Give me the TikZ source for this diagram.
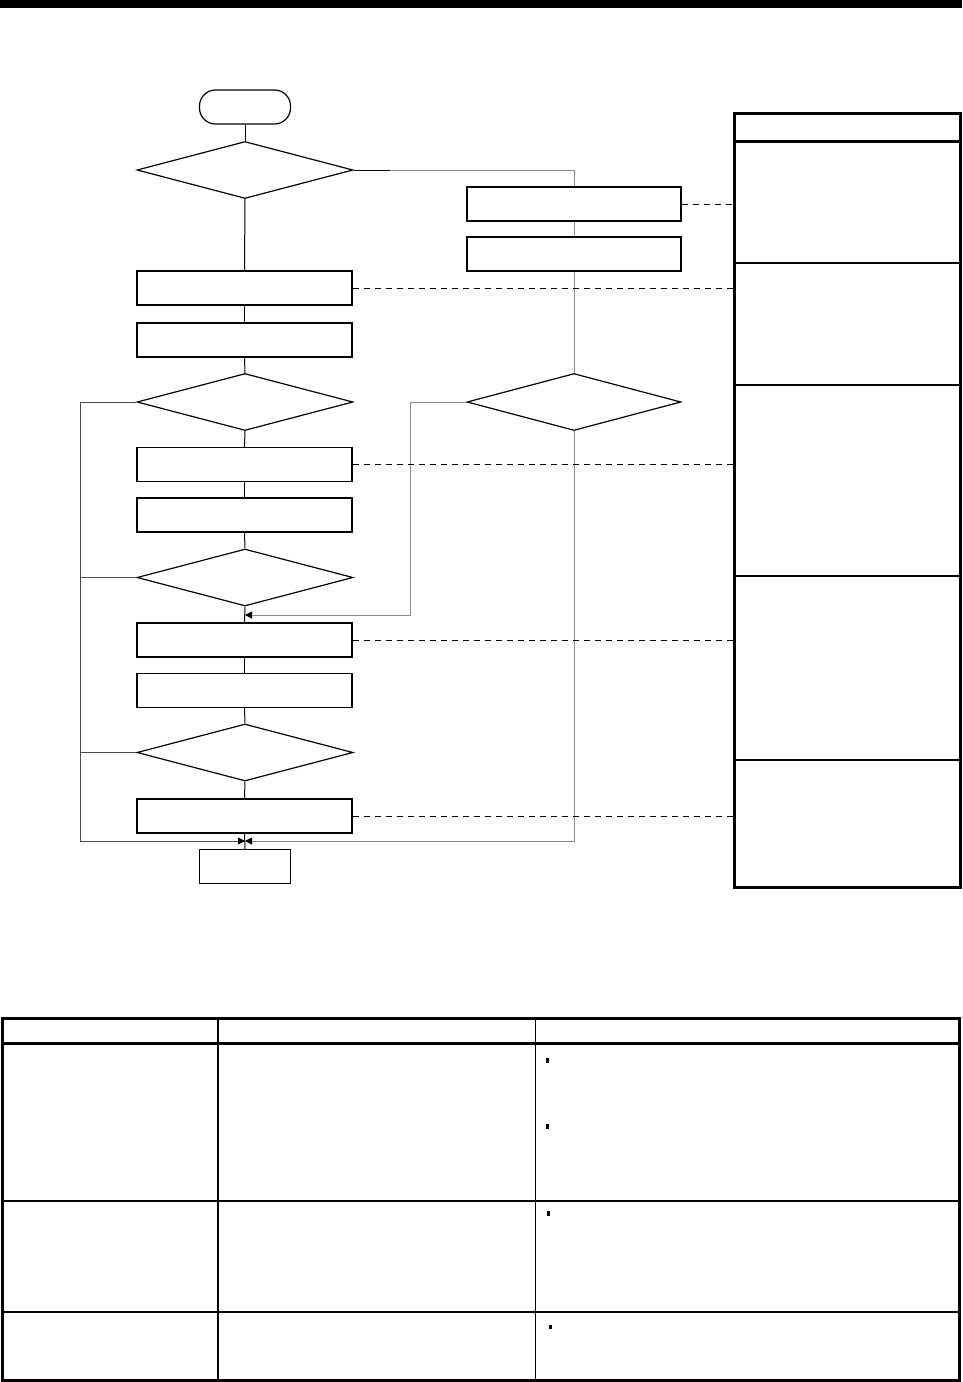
\documentclass[tikz,border=0pt]{standalone}
\usetikzlibrary{shapes.geometric,arrows.meta}
\begin{document}
\begin{tikzpicture}[x=1pt,y=-1pt,
  proc/.style={draw,rectangle,minimum width=215pt,minimum height=34pt,inner sep=0pt,line width=1.2pt},
  rproc/.style={draw,rectangle,minimum width=214pt,minimum height=34pt,inner sep=0pt,line width=1.2pt},
  dec/.style={draw,diamond,minimum width=216pt,minimum height=57pt,inner sep=0pt,line width=1.2pt},
  term/.style={draw,rectangle,minimum width=91pt,minimum height=34pt,inner sep=0pt,line width=1.2pt},
  flow/.style={line width=1pt},
  gflow/.style={line width=1pt,draw=black!45},
  lflow/.style={line width=1pt,draw=black!70},
  tip/.style={-{Triangle[length=7pt,width=7pt,color=black,fill=black]}},
  lead/.style={dash pattern=on 6pt off 5pt,line width=1pt},
  thickrule/.style={line width=3pt},
  midrule/.style={line width=2pt},
  thinrule/.style={line width=1.2pt}]
\useasboundingbox (0,0) rectangle (962,1382);
% top bar
\fill (0,0) rectangle (962,8);

% flowchart nodes
\node[term,rounded corners=16pt] (start) at (245,107) {};
\node[dec] (d1) at (245,170) {};
\node[rproc] (rA) at (574,204) {};
\node[rproc] (rB) at (574,254) {};
\node[proc] (b1) at (244.5,288) {};
\node[proc] (b2) at (244.5,340) {};
\node[dec] (d2) at (245,402) {};
\node[dec,minimum width=214pt] (rd) at (574,402) {};
\node[proc] (b3) at (244.5,464.5) {};
\node[proc] (b4) at (244.5,515) {};
\node[dec] (d3) at (245,577.5) {};
\node[proc] (b5) at (244.5,640) {};
\node[proc] (b6) at (244.5,690.5) {};
\node[dec] (d4) at (245,752.5) {};
\node[proc] (b7) at (244.5,816) {};
\node[term] (end) at (245,866.5) {};

\coordinate (m1) at (245,615);
\coordinate (m2) at (245,841);

% main flow
\draw[flow] (start.south) -- (d1.north);
\draw[flow] (d1.south) -- (b1.north);
\draw[flow] (b1.south) -- (b2.north);
\draw[flow] (b2.south) -- (d2.north);
\draw[flow] (d2.south) -- (b3.north);
\draw[flow] (b3.south) -- (b4.north);
\draw[flow] (b4.south) -- (d3.north);
\draw[flow] (d3.south) -- (b5.north);
\draw[flow] (b5.south) -- (b6.north);
\draw[flow] (b6.south) -- (d4.north);
\draw[flow] (d4.south) -- (b7.north);
\draw[flow] (b7.south) -- (end.north);

% right branch (grey)
\draw[flow] (d1.east) -- (390,170);
\draw[gflow] (390,170) -| (rA.north);
\draw[gflow] (rA.south) -- (rB.north);
\draw[gflow] (rB.south) -- (rd.north);
\draw[gflow,tip] (rd.west) -- (410,402) -- (410,615) -- (m1);
\draw[gflow,tip] (rd.south) -- (574,841) -- (m2);

% left loop
\draw[lflow,tip] (d2.west) -- (80,402) -- (80,841) -- (m2);
\draw[lflow] (d3.west) -- (80,577.5);
\draw[lflow] (d4.west) -- (80,752.5);

% side panel
\node[draw,rectangle,line width=3pt,minimum width=226pt,minimum height=774pt,inner sep=0pt] (panel) at (847,500) {};
\draw[thickrule] (734,141.5) -- (960,141.5);
\draw[thinrule] (734,263) -- (960,263);
\draw[midrule] (734,385) -- (960,385);
\draw[midrule] (734,576) -- (960,576);
\draw[midrule] (734,760) -- (960,760);

% dashed leaders
\draw[lead] (rA.east) -- (rA.east -| panel.west);
\draw[lead] (b1.east) -- (b1.east -| panel.west);
\draw[lead] (b3.east) -- (b3.east -| panel.west);
\draw[lead] (b5.east) -- (b5.east -| panel.west);
\draw[lead] (b7.east) -- (b7.east -| panel.west);

% table
\draw[thickrule] (2,1018) rectangle (959.5,1380);
\draw[thickrule] (2,1043) -- (959.5,1043);
\draw[midrule] (2,1201) -- (959.5,1201);
\draw[thinrule] (2,1312) -- (959.5,1312);
\draw[line width=1.6pt] (218,1018) -- (218,1380);
\draw[line width=1.6pt] (535.5,1018) -- (535.5,1380);

% bullets
\fill (546,1058) rectangle (548.5,1063);
\fill (546,1124) rectangle (548.5,1129);
\fill (547,1211) rectangle (549.5,1216);
\fill (549,1325) rectangle (551.5,1329);
\end{tikzpicture}
\end{document}
